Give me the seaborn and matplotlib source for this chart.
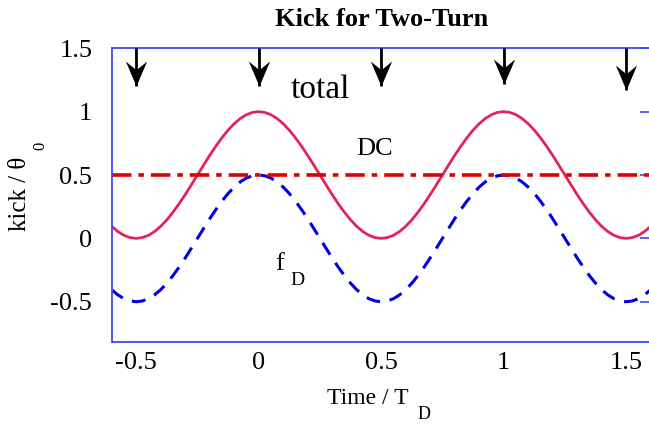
import matplotlib
matplotlib.use("Agg")
import matplotlib.pyplot as plt
from matplotlib.path import Path
import pandas as pd
import seaborn as sns

# Sampled kick curves over two drive periods
time = [-0.6, -0.575, -0.55, -0.525, -0.5, -0.475, -0.45, -0.425, -0.4, -0.375,
        -0.35, -0.325, -0.3, -0.275, -0.25, -0.225, -0.2, -0.175, -0.15, -0.125,
        -0.1, -0.075, -0.05, -0.025, 0.0,
        0.025, 0.05, 0.075, 0.1, 0.125, 0.15, 0.175, 0.2, 0.225, 0.25,
        0.275, 0.3, 0.325, 0.35, 0.375, 0.4, 0.425, 0.45, 0.475, 0.5,
        0.525, 0.55, 0.575, 0.6, 0.625, 0.65, 0.675, 0.7, 0.725, 0.75,
        0.775, 0.8, 0.825, 0.85, 0.875, 0.9, 0.925, 0.95, 0.975, 1.0,
        1.025, 1.05, 1.075, 1.1, 1.125, 1.15, 1.175, 1.2, 1.225, 1.25,
        1.275, 1.3, 1.325, 1.35, 1.375, 1.4, 1.425, 1.45, 1.475, 1.5,
        1.525, 1.55, 1.575, 1.6]
total = [0.095, 0.054, 0.024, 0.006, 0.0, 0.006, 0.024, 0.054, 0.095, 0.146,
         0.206, 0.273, 0.345, 0.422, 0.5, 0.578, 0.655, 0.727, 0.794, 0.854,
         0.905, 0.946, 0.976, 0.994, 1.0,
         0.994, 0.976, 0.946, 0.905, 0.854, 0.794, 0.727, 0.655, 0.578, 0.5,
         0.422, 0.345, 0.273, 0.206, 0.146, 0.095, 0.054, 0.024, 0.006, 0.0,
         0.006, 0.024, 0.054, 0.095, 0.146, 0.206, 0.273, 0.345, 0.422, 0.5,
         0.578, 0.655, 0.727, 0.794, 0.854, 0.905, 0.946, 0.976, 0.994, 1.0,
         0.994, 0.976, 0.946, 0.905, 0.854, 0.794, 0.727, 0.655, 0.578, 0.5,
         0.422, 0.345, 0.273, 0.206, 0.146, 0.095, 0.054, 0.024, 0.006, 0.0,
         0.006, 0.024, 0.054, 0.095]
f_d = [-0.405, -0.446, -0.476, -0.494, -0.5, -0.494, -0.476, -0.446, -0.405, -0.354,
       -0.294, -0.227, -0.155, -0.078, 0.0, 0.078, 0.155, 0.227, 0.294, 0.354,
       0.405, 0.446, 0.476, 0.494, 0.5,
       0.494, 0.476, 0.446, 0.405, 0.354, 0.294, 0.227, 0.155, 0.078, 0.0,
       -0.078, -0.155, -0.227, -0.294, -0.354, -0.405, -0.446, -0.476, -0.494, -0.5,
       -0.494, -0.476, -0.446, -0.405, -0.354, -0.294, -0.227, -0.155, -0.078, 0.0,
       0.078, 0.155, 0.227, 0.294, 0.354, 0.405, 0.446, 0.476, 0.494, 0.5,
       0.494, 0.476, 0.446, 0.405, 0.354, 0.294, 0.227, 0.155, 0.078, 0.0,
       -0.078, -0.155, -0.227, -0.294, -0.354, -0.405, -0.446, -0.476, -0.494, -0.5,
       -0.494, -0.476, -0.446, -0.405]
dc_time = [-0.6, 1.6]
dc_level = [0.5, 0.5]

# Kick instants marked by arrows from the top edge
kick_times = [-0.5, 0.0, 0.5, 1.0, 1.5]
kick_tips = [1.2, 1.2, 1.2, 1.22, 1.17]

xticks = [-0.5, 0, 0.5, 1, 1.5]
xtick_labels = ["-0.5", "0", "0.5", "1", "1.5"]
yticks = [-0.5, 0, 0.5, 1, 1.5]
ytick_labels = ["-0.5", "0", "0.5", "1", "1.5"]

sns.set_theme(style="white")
plt.rcParams["font.family"] = ["Liberation Serif", "DejaVu Serif"]
plt.rcParams["text.color"] = "black"
plt.rcParams["axes.labelcolor"] = "black"
plt.rcParams["axes.titlecolor"] = "black"
plt.rcParams["axes.unicode_minus"] = False
plt.rcParams["lines.scale_dashes"] = False

frame_blue = "#4646ee"

fig = plt.figure(figsize=(6.49, 4.24), dpi=100)
ax = fig.add_axes([0.1721, 0.1927, 0.8305, 0.6934])

df = pd.DataFrame({"time": time, "total": total, "f_d": f_d})
sns.lineplot(data=df, x="time", y="total", ax=ax, color="#e0245e", linewidth=2.0)
sns.lineplot(data=df, x="time", y="f_d", ax=ax, color="#0000e0", linewidth=2.2,
             linestyle=(0, (10, 7)))
sns.lineplot(x=dc_time, y=dc_level, ax=ax, color="#dd0000", linewidth=2.6,
             linestyle=(0, (14, 5, 4, 5)))

# Arrows: stems plus a notched head marker whose tip sits on the data point
head = Path([(0, 0), (0.85, 2), (0, 1.3), (-0.85, 2), (0, 0)],
            [Path.MOVETO, Path.LINETO, Path.LINETO, Path.LINETO, Path.CLOSEPOLY])
ax.vlines(kick_times, kick_tips, 1.5, color="black", linewidth=2.0, zorder=4)
ax.plot(kick_times, kick_tips, linestyle="none", marker=head, markersize=36,
        markeredgewidth=0, color="black", zorder=5, clip_on=False)

ax.set_xlim(-0.6, 1.6)
ax.set_ylim(-0.82, 1.5)
ax.set_xticks(xticks, xtick_labels)
ax.set_yticks(yticks, ytick_labels)
ax.set_xlabel("")
ax.set_ylabel("")
ax.tick_params(axis="both", direction="in", length=8, width=1.2, color=frame_blue,
               top=True, right=True, labelsize=19, labelcolor="black")
ax.tick_params(axis="x", pad=7)
ax.tick_params(axis="y", pad=14)
for spine in ax.spines.values():
    spine.set_visible(True)
    spine.set_color(frame_blue)
    spine.set_linewidth(1.3)

ax.set_title("Kick for Two-Turn", fontsize=19, fontweight="bold", pad=16, color="black")

# Curve annotations
ax.text(0.131, 1.108, "total", fontsize=24, ha="left", va="baseline")
ax.text(0.4, 0.658, "DC", fontsize=19, ha="left", va="baseline")
ax.text(0.069, -0.25, "f", fontsize=19, ha="left", va="baseline")
ax.text(0.131, -0.368, "D", fontsize=14, ha="left", va="baseline")

# Axis labels with lowered subscripts
ax.text(0.3995, -0.21, "Time / T", transform=ax.transAxes, fontsize=17,
        ha="left", va="baseline")
ax.text(0.568, -0.261, "D", transform=ax.transAxes, fontsize=13,
        ha="left", va="baseline")
fig.text(0.031, 0.542, "kick / θ", rotation=90, fontsize=18, ha="center", va="center")
fig.text(0.062, 0.656, "0", rotation=90, fontsize=12, ha="center", va="center")

fig.savefig("out.png", dpi=100)
